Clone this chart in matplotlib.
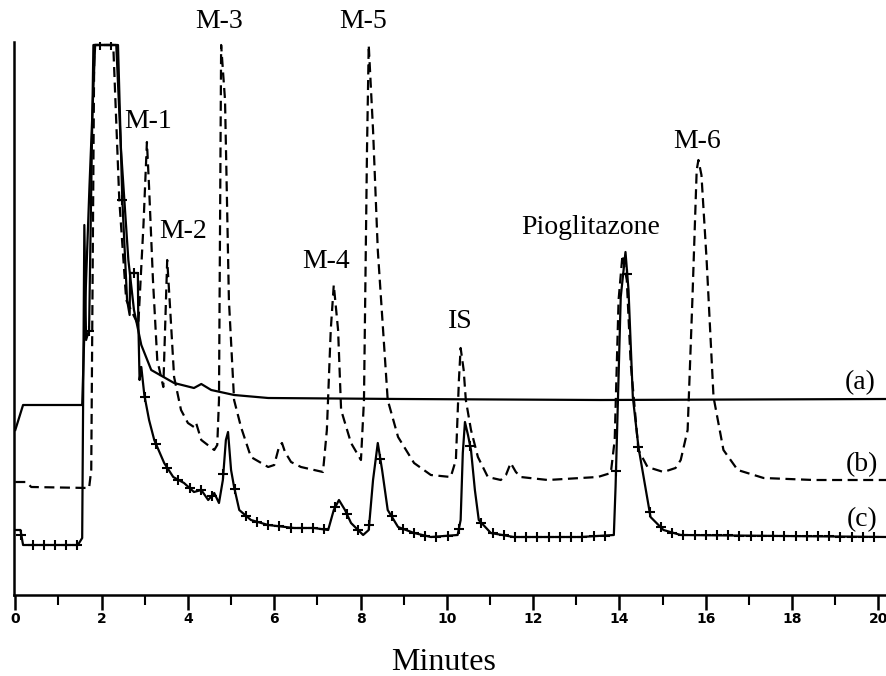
import numpy as np
import matplotlib
matplotlib.use("Agg")
import matplotlib.pyplot as plt
from matplotlib.ticker import MultipleLocator

# ---- data (time in minutes, detector signal in arbitrary units) ----
a_t = [0.0, 0.18, 1.55, 1.62, 1.72, 1.85, 2.34, 2.45, 2.62, 2.75, 2.92, 3.15, 3.68,
       4.14, 4.31, 4.54, 5.07, 5.86, 8.94, 13.56, 20.2]
a_y = [175, 200, 200, 300, 420, 560, 560, 455, 345, 295, 260, 235, 222,
       217, 221, 215, 210, 207, 206, 205, 206]

b_t = [0.0, 0.25, 0.37, 1.71, 1.76, 1.83, 2.27, 2.41, 2.57, 2.85, 2.97, 3.05, 3.10,
       3.19, 3.29, 3.43, 3.52, 3.59, 3.68, 3.84, 4.00, 4.14, 4.19, 4.31, 4.61,
       4.68, 4.72, 4.77, 4.86, 4.95, 5.07, 5.23, 5.46, 5.86, 6.00, 6.11, 6.18,
       6.25, 6.39, 6.62, 7.13, 7.22, 7.31, 7.38, 7.48, 7.55, 7.78, 8.01, 8.08,
       8.15, 8.19, 8.29, 8.40, 8.63, 8.87, 9.24, 9.63, 10.09, 10.21, 10.28,
       10.32, 10.39, 10.44, 10.56, 10.72, 10.95, 11.25, 11.37, 11.48, 11.60,
       11.71, 12.34, 13.10, 13.50, 13.80, 13.89, 13.98, 14.07, 14.17, 14.26,
       14.44, 14.65, 15.02, 15.30, 15.42, 15.58, 15.69, 15.79, 15.83, 15.90,
       16.02, 16.18, 16.41, 16.74, 17.34, 18.50, 20.2]
b_y = [123, 123, 118, 117, 135, 560, 560, 405, 305, 280, 380, 463, 418,
       325, 245, 218, 345, 295, 228, 195, 182, 178, 182, 165, 155,
       160, 205, 560, 505, 305, 205, 178, 148, 138, 140, 158, 162,
       153, 143, 138, 133, 175, 275, 320, 275, 195, 162, 145, 205,
       455, 560, 475, 355, 205, 168, 142, 130, 128, 145, 225,
       257, 235, 205, 175, 148, 128, 125, 130, 142, 133,
       128, 125, 127, 128, 132, 165, 305, 350, 325, 242,
       155, 138, 133, 137, 145, 175, 305, 435, 445, 430,
       345, 208, 155, 135, 127, 125, 125]

c_t = [0.0, 0.12, 0.18, 1.45, 1.55, 1.60, 1.64, 1.71, 1.81, 2.38, 2.48, 2.59, 2.65,
       2.66, 2.84, 2.85, 2.88, 2.92, 2.99, 3.10, 3.22, 3.45, 3.66, 3.91, 4.14, 4.31, 4.47,
       4.61, 4.72, 4.81, 4.88, 4.93, 5.00, 5.07, 5.19, 5.46, 5.86, 6.46, 6.92,
       7.25, 7.38, 7.50, 7.64, 7.78, 8.06, 8.19, 8.29, 8.40, 8.50, 8.63, 8.87,
       9.24, 9.63, 10.25, 10.32, 10.37, 10.42, 10.49, 10.56, 10.65, 10.74,
       11.02, 11.55, 13.10, 13.87, 13.91, 14.03, 14.14, 14.21, 14.31, 14.44,
       14.72, 15.02, 15.42, 20.2]
c_y = [75, 75, 60, 60, 67, 380, 265, 275, 560, 560, 405, 305, 290,
       332, 332, 285, 225, 238, 210, 185, 165, 142, 128, 122, 113, 115, 105,
       112, 102, 125, 165, 173, 135, 118, 95, 85, 80, 77, 77,
       75, 95, 105, 95, 82, 70, 75, 125, 162, 135, 95, 78,
       72, 68, 70, 85, 152, 183, 170, 155, 115, 85,
       72, 68, 68, 70, 118, 308, 353, 315, 208, 158,
       88, 75, 70, 68]
c_marker_step = 0.26  # minutes between '+' marks on trace (c)

peak_labels = ["M-1", "M-2", "M-3", "M-5", "M-4", "IS", "Pioglitazone", "M-6"]
peak_label_t = [3.08, 3.89, 4.72, 8.06, 7.20, 10.32, 13.33, 15.81]
peak_label_y = [484, 373, 583, 583, 343, 283, 377, 463]

trace_labels = ["(a)", "(b)", "(c)"]
trace_label_t = [19.58, 19.63, 19.63]
trace_label_y = [222, 140, 85]

xticks = list(range(0, 21, 2))

# ---- figure ----
fig = plt.figure(figsize=(8.87, 6.76), dpi=100)
ax = fig.add_axes([14 / 887, 81 / 676, 1 - 14 / 887, (595 - 42) / 676])
ax.set_xlim(-0.03, 20.2)
ax.set_ylim(10, 563)

lw = 1.6
ax.plot(a_t, a_y, color="black", lw=lw, solid_joinstyle="round")
ax.plot(b_t, b_y, color="black", lw=lw, dashes=(4.5, 2.5))
ax.plot(c_t, c_y, color="black", lw=lw, solid_joinstyle="round")
mk_t = np.arange(0.14, 20.0, c_marker_step)
ax.plot(mk_t, np.interp(mk_t, c_t, c_y), ls="none", marker="+",
        ms=7, mew=1.5, color="black")

serif = ["Liberation Serif", "DejaVu Serif"]
for s, t, y in zip(peak_labels, peak_label_t, peak_label_y):
    ax.text(t, y, s, ha="center", va="center", fontsize=20, family=serif,
            clip_on=False)
for s, t, y in zip(trace_labels, trace_label_t, trace_label_y):
    ax.text(t, y, s, ha="center", va="center", fontsize=20, family=serif)

for side in ["top", "right"]:
    ax.spines[side].set_visible(False)
ax.spines["left"].set_linewidth(1.8)
ax.spines["bottom"].set_linewidth(1.8)
ax.set_yticks([])
ax.set_xticks(xticks)
ax.set_xticklabels([str(v) for v in xticks],
                   family=["DejaVu Sans Condensed", "Liberation Sans Narrow", "DejaVu Sans"],
                   fontweight="bold", fontsize=10)
ax.xaxis.set_minor_locator(MultipleLocator(1))
ax.tick_params(axis="x", which="major", direction="out", length=10.5, width=1.8, pad=2)
ax.tick_params(axis="x", which="minor", direction="out", length=7, width=1.5)
ax.set_xlabel("Minutes", family=serif, fontsize=23)
ax.xaxis.label.set_verticalalignment("baseline")
ax.xaxis.set_label_coords(0.5 - 7 / 873, -0.136)

fig.savefig("out.png", dpi=100)
